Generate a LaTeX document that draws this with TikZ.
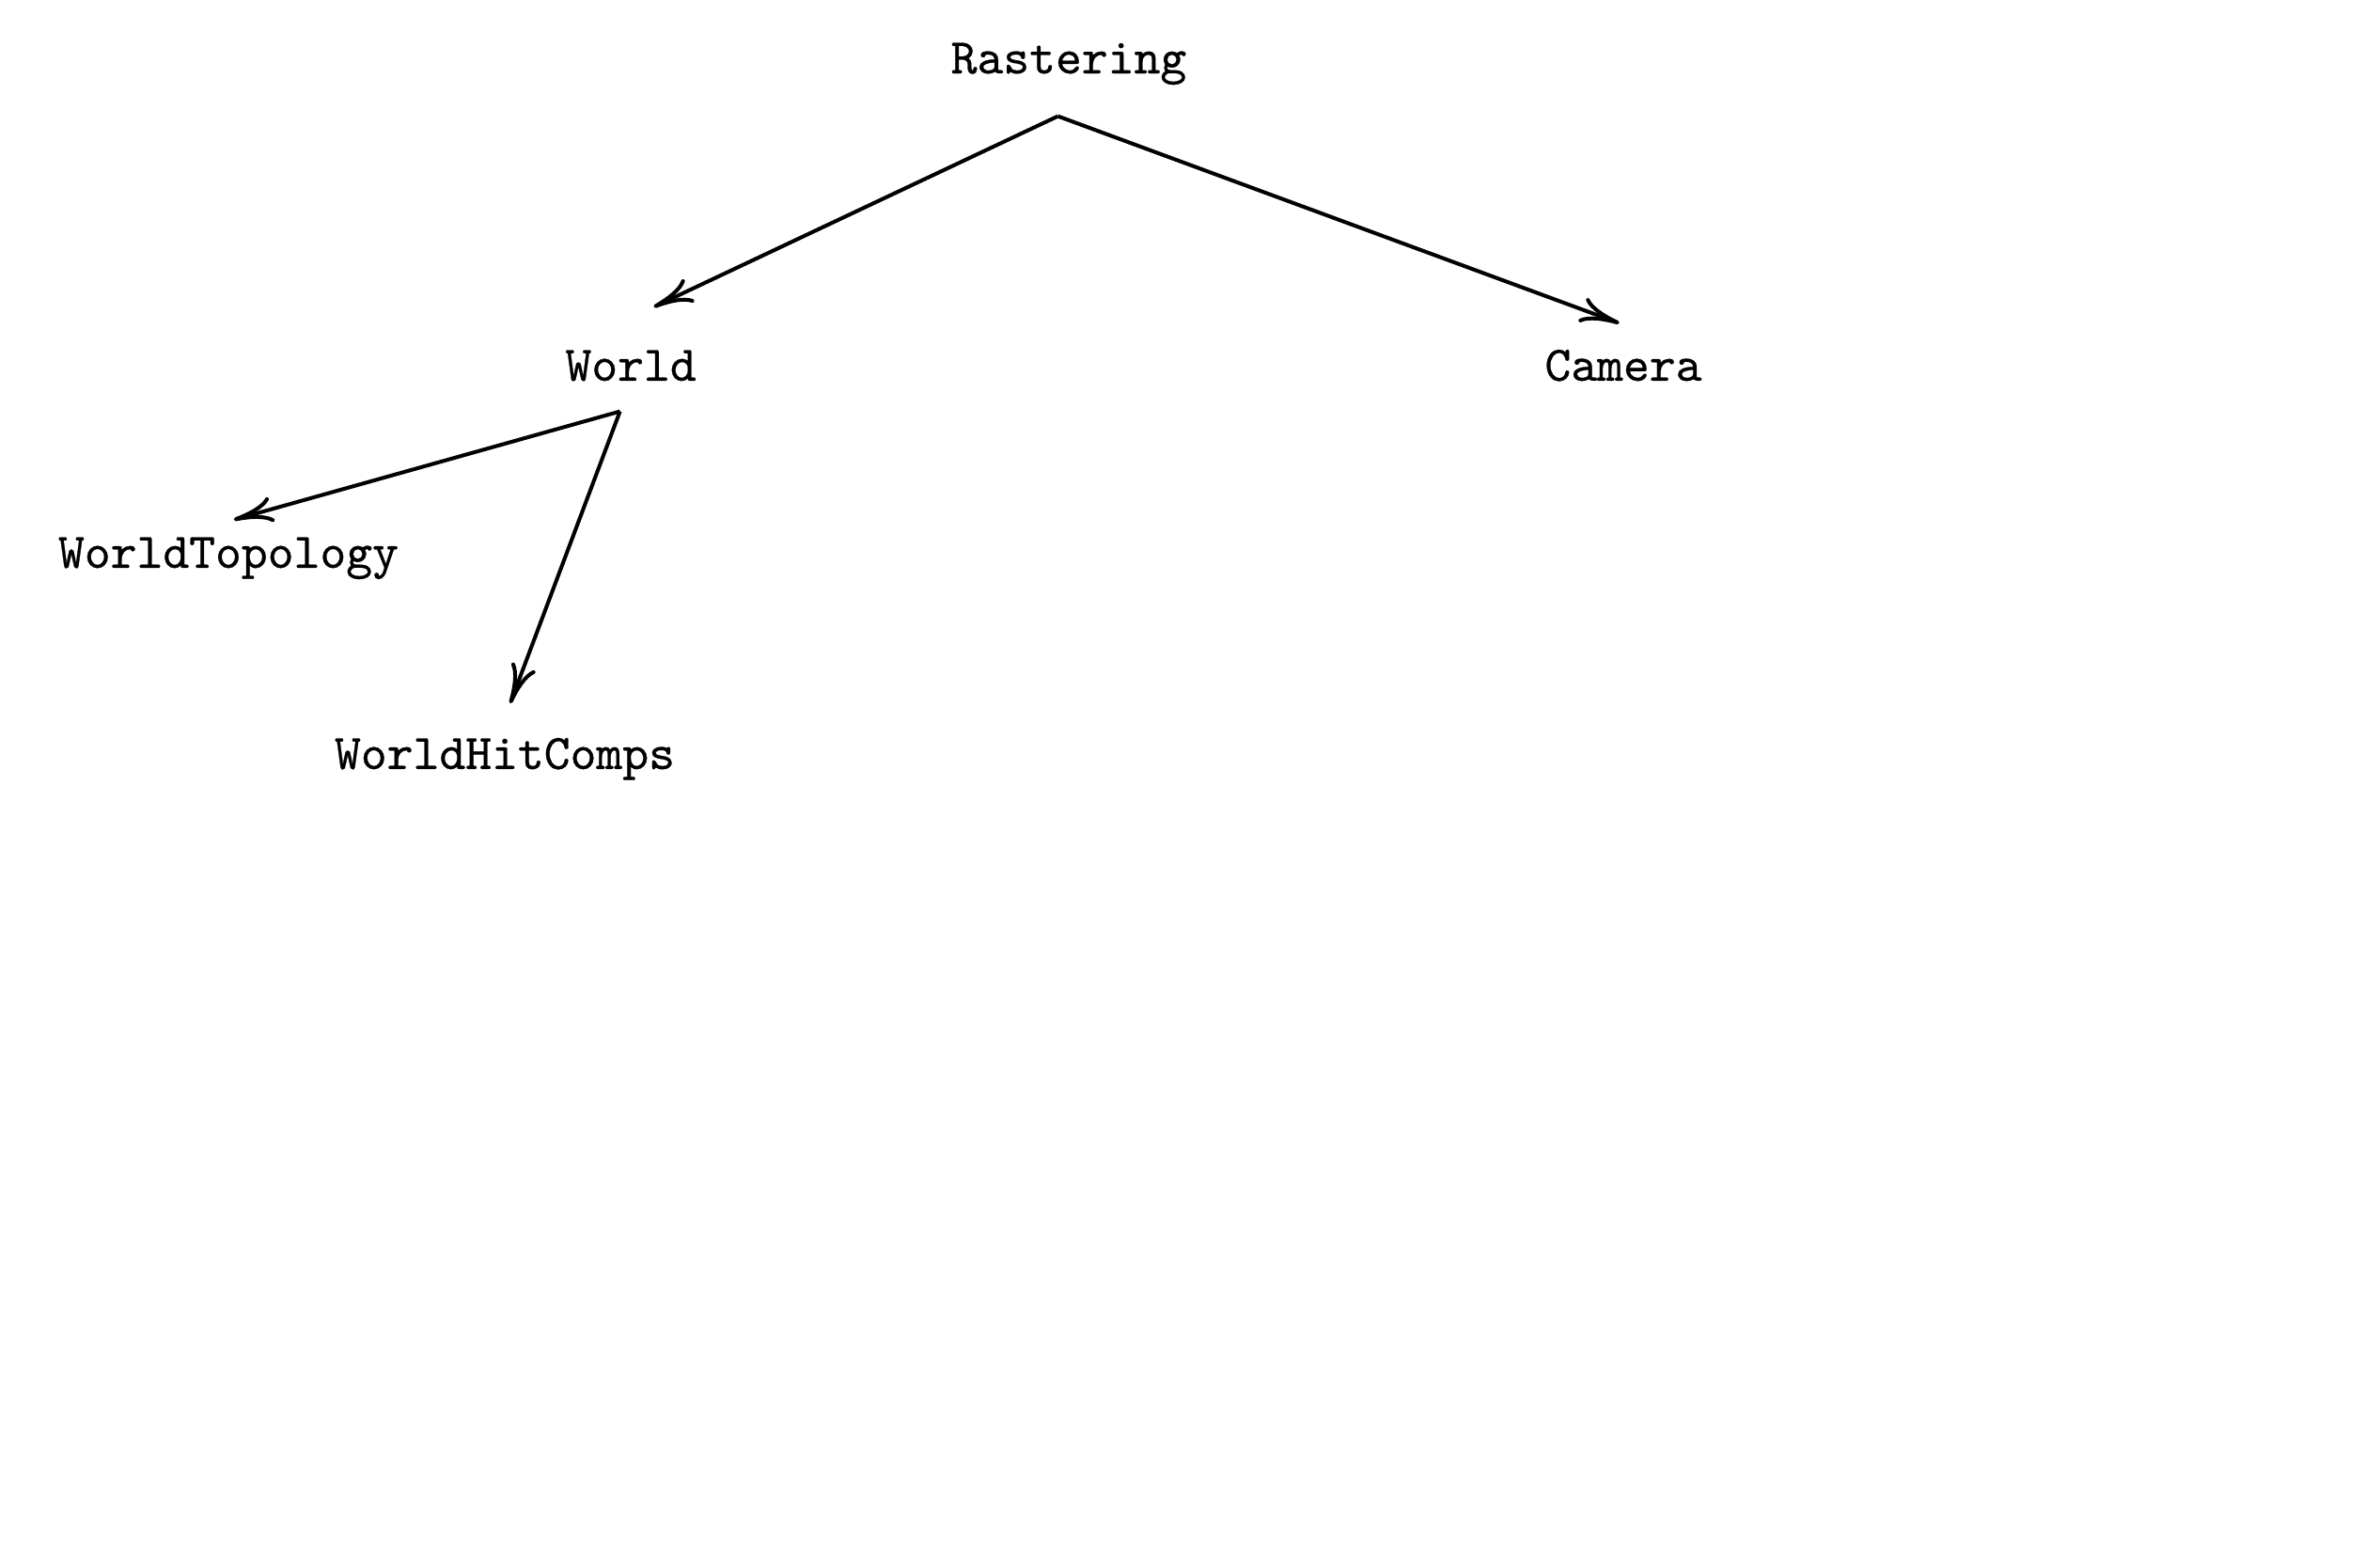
\documentclass[tikz,border=0pt]{standalone}
\usepackage{fontspec}
\usepackage{tikz}
\usetikzlibrary{arrows.meta}

\newfontfamily\clsfont{Latin Modern Mono}[FakeBold=0.5]

\tikzset{
    cls/.style={font=\clsfont\fontsize{10.5}{12}\selectfont, inner sep=0pt, anchor=base, text height=6.5pt, text depth=2pt},
    uses/.style={thick, -{To[length=8.3pt,width=5.4pt]}}
}

\begin{document}
\begin{tikzpicture}
    \useasboundingbox (0,0) rectangle (17.62,-11.50);

    % Classes
    \node[cls] (ras) at (7.912,-0.543) {Rastering};
    \node[cls] (wor) at (4.670,-2.818) {World};
    \node[cls] (cam) at (12.018,-2.818) {Camera};
    \node[cls] (topo) at (1.691,-4.203) {WorldTopology};
    \node[cls] (hit) at (3.737,-5.692) {WorldHitComps};

    % Dependencies
    \draw[uses] ([xshift=-0.8mm,yshift=-2.4mm]ras.south) -- ([xshift=1.7mm,yshift=3.1mm]wor.north);
    \draw[uses] ([xshift=-0.8mm,yshift=-2.4mm]ras.south) -- ([xshift=-0.3mm,yshift=1.9mm]cam.north);
    \draw[uses] ([xshift=-0.8mm,yshift=-1.5mm]wor.south) -- ([xshift=0.4mm,yshift=1.2mm]topo.north);
    \draw[uses] ([xshift=-0.8mm,yshift=-1.5mm]wor.south) -- ([xshift=0.4mm,yshift=2.5mm]hit.north);

\end{tikzpicture}
\end{document}
